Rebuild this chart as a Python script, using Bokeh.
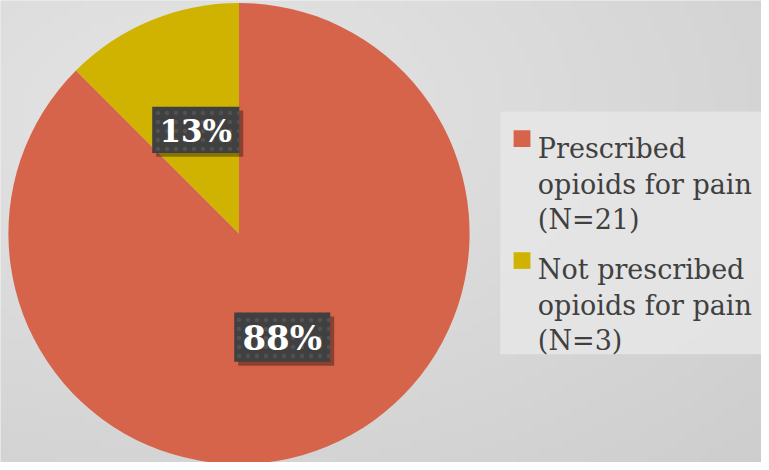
import numpy as np
from bokeh.plotting import figure
from bokeh.models import Range1d
from bokeh.core.properties import value
from bokeh.embed import file_html
from bokeh.resources import INLINE

# ---- data ----
categories = ["Prescribed opioids for pain (N=21)", "Not prescribed opioids for pain (N=3)"]
legend_lines = [["Prescribed", "opioids for pain", "(N=21)"],
                ["Not prescribed", "opioids for pain", "(N=3)"]]
counts = [21, 3]
pct_labels = ["88%", "13%"]
colors = ["#D5644A", "#CFB300"]

# ---- figure (data units ~ reference pixels, y negated) ----
W, H = 761, 462
p = figure(width=W, height=H, x_range=Range1d(0, 769), y_range=Range1d(-470, 0),
           output_backend="svg", toolbar_location=None, min_border=0)
p.axis.visible = False
p.grid.visible = False
p.outline_line_color = None
p.background_fill_color = "#dcdcdc"
p.border_fill_color = "#dcdcdc"

# background gradient
ny, nx = 60, 100
yy, xx = np.mgrid[0:ny, 0:nx]
dist = np.sqrt(((xx - 25) / nx) ** 2 + ((yy - 45) / ny) ** 2)
g = np.clip(229 - 22 * dist, 205, 232).astype(np.uint32)
img = (255 << 24) | (g << 16) | (g << 8) | g
p.image_rgba(image=[img.view(np.uint32)], x=0, y=-470, dw=769, dh=470)

# legend panel
p.quad(left=505, right=769, bottom=-360, top=-113, fill_color="#e6e6e6", line_color=None, fill_alpha=0.85)

# ---- pie ----
cx, cy, R = 241, -237, 233
total = sum(counts)
start = np.pi / 2
starts, ends, mids = [], [], []
for c in counts:
    sweep = 2 * np.pi * c / total
    starts.append(start)
    ends.append(start - sweep)
    mids.append(start - sweep / 2)
    start -= sweep
p.wedge(x=cx, y=cy, radius=R, start_angle=starts, end_angle=ends, direction="clock",
        fill_color=colors, line_color=None)

# data labels
lr = 0.49 * R
lx = [cx + lr * np.cos(m) for m in mids]
ly = [cy + lr * np.sin(m) for m in mids]
bw = [97, 88]
bh = [50, 47]
fs = ["34px", "31px"]
p.rect(x=[x + 4 for x in lx], y=[y - 4 for y in ly], width=bw, height=bh,
       fill_color="black", fill_alpha=0.35, line_color=None)
p.rect(x=lx, y=ly, width=bw, height=bh, fill_color="#404040", line_color=None,
       hatch_pattern="dot", hatch_color="#555555", hatch_scale=9, hatch_alpha=0.8)
p.text(x=lx, y=[y - 1 for y in ly], text=pct_labels, text_font=value("DejaVu Serif"),
       text_font_style="bold", text_font_size=fs, text_color="white",
       text_align="center", text_baseline="middle")

# ---- legend ----
sq_tops = [-132, -256]
p.rect(x=[527, 527], y=[t - 8.5 for t in sq_tops], width=17, height=17,
       fill_color=colors, line_color=None)
base0 = [-151, -274]
tx, ty, tt = [], [], []
for lines, b in zip(legend_lines, base0):
    for i, ln in enumerate(lines):
        tx.append(543)
        ty.append(b - 36 * i)
        tt.append(ln)
p.text(x=tx, y=ty, text=tt, text_font=value("DejaVu Serif"), text_font_size="27px",
       text_color="#404040", text_align="left", text_baseline="alphabetic")

open("out.html", "w").write(file_html(p, INLINE))
